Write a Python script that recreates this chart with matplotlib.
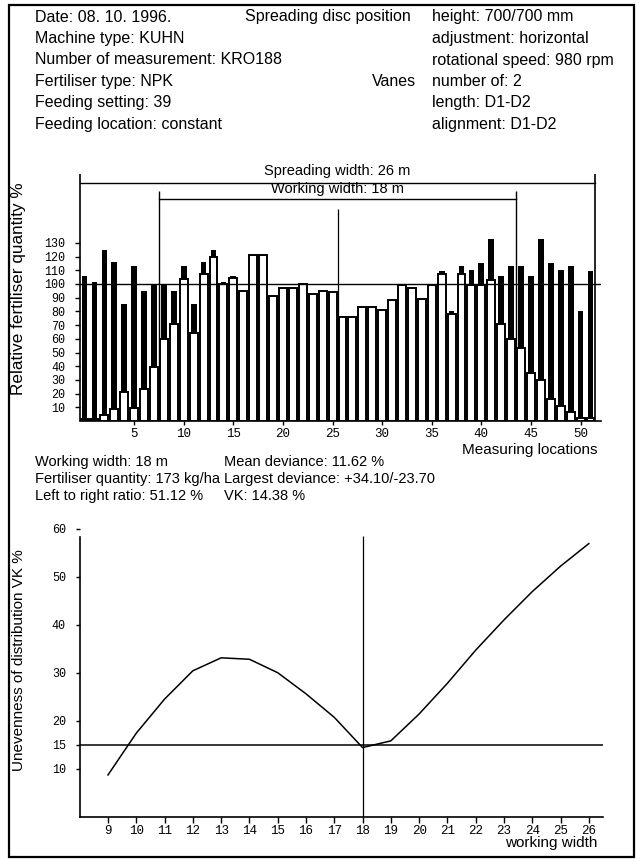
#!/usr/bin/env python3
"""
Spreader test report - lateral distribution and VK vs working width
"""

import matplotlib
matplotlib.use('Agg')
import matplotlib.pyplot as plt
from matplotlib.patches import Rectangle

W, H = 641, 861

# header
info_left = ["Date: 08. 10. 1996.", "Machine type: KUHN", "Number of measurement: KRO188",
             "Fertiliser type: NPK", "Feeding setting: 39", "Feeding location: constant"]
info_right = ["height: 700/700 mm", "adjustment: horizontal", "rotational speed: 980 rpm",
              "number of: 2", "length: D1-D2", "alignment: D1-D2"]

# relative quantity per measuring location (single pass / with neighbour pass)
locations = list(range(52))
single_pass = [1.5, 1.5, 4.5, 9, 21, 9.5, 23, 39.5, 60, 71,
               104, 64, 107, 120, 100, 104.5, 95, 121, 121, 91,
               97, 97, 100, 93, 95, 94, 76, 76, 83, 83,
               81, 88, 99, 97, 89, 99, 107, 78, 107, 99,
               99, 103, 71, 60, 53, 35, 30, 16, 11, 6.5,
               2.5, 2.5]
overlapped = [106, 101.5, 124.5, 116, 85.5, 113.5, 95, 99.5, 99.5, 95,
              113.5, 85.5, 116, 124.5, 101.5, 106, 95, 121, 121, 91,
              97, 97, 100, 93, 95, 94, 76, 76, 83, 83,
              81, 88, 99, 97, 89, 99, 109.5, 80.5, 113.5, 110,
              115, 133, 106, 113, 113, 106, 133, 115, 110, 113.5,
              80.5, 109.5]
loc_ticks = [5, 10, 15, 20, 25, 30, 35, 40, 45, 50]
qty_ticks = [10, 20, 30, 40, 50, 60, 70, 80, 90, 100, 110, 120, 130]

stats_left = ["Working width: 18 m", "Fertiliser quantity: 173 kg/ha", "Left to right ratio: 51.12 %"]
stats_right = ["Mean deviance: 11.62 %", "Largest deviance: +34.10/-23.70", "VK: 14.38 %"]

# VK over working width
widths = [9, 10, 11, 12, 13, 14, 15, 16, 17, 18, 19, 20, 21, 22, 23, 24, 25, 26]
vk = [8.7, 17.4, 24.5, 30.4, 33.1, 32.8, 30.0, 25.6, 20.7, 14.4,
      15.8, 21.4, 27.8, 34.7, 41.0, 46.9, 52.2, 56.9]
vk_ticks = [10, 15, 20, 30, 40, 50, 60]

SANS = ['Liberation Sans', 'DejaVu Sans']
MONO = ['Liberation Mono', 'DejaVu Sans Mono']


def px(x, y):
    return x / W, 1 - y / H


def create_chart(output_path):
    plt.rcParams['font.family'] = SANS
    fig = plt.figure(figsize=(W / 100, H / 100), dpi=100)
    fig.patch.set_facecolor('white')

    # frame
    fig.add_artist(Rectangle(px(9, 857), 625 / W, 852 / H, transform=fig.transFigure,
                             fill=False, lw=1.6, color='black'))

    # header block
    for i, t in enumerate(info_left):
        fig.text(*px(35, 17 + i * 21.5), t, fontsize=11.5, va='center')
    for i, t in enumerate(info_right):
        fig.text(*px(432, 17 + i * 21.5), t, fontsize=11.5, va='center')
    fig.text(*px(245, 17), "Spreading disc position", fontsize=11.5, va='center')
    fig.text(*px(372, 81.5), "Vanes", fontsize=11.5, va='center')

    # distribution chart
    ax = fig.add_axes([79.6 / W, 1 - 421 / H, 521.8 / W, 260.3 / H])
    ax.bar(locations, overlapped, width=0.58, color='black', zorder=2)
    ax.bar(locations, single_pass, width=0.8, facecolor='white', edgecolor='black',
           linewidth=1.4, zorder=3)
    ax.axhline(100, color='black', lw=1, zorder=5)
    ax.set_xlim(-0.5, 52.1)
    ax.set_ylim(0, 190)
    for s in ['top', 'right', 'left']:
        ax.spines[s].set_visible(False)
    ax.spines['bottom'].set_linewidth(1.2)

    # spreading / working width brackets
    ax.plot([-0.5, 51.5], [174, 174], color='black', lw=1, clip_on=False)
    ax.vlines([-0.5, 51.5], 0, 180, color='black', lw=1.2, zorder=5, clip_on=False)
    ax.plot([7.5, 43.5], [162, 162], color='black', lw=1, clip_on=False)
    ax.vlines([7.5, 43.5], 0, 168, color='black', lw=1, zorder=5)
    ax.vlines([25.5], 0, 155, color='black', lw=0.9, zorder=5)
    ax.text(25.5, 177.5, "Spreading width: 26 m", ha='center', va='bottom', fontsize=10.5)
    ax.text(25.5, 164.5, "Working width: 18 m", ha='center', va='bottom', fontsize=10.5)

    ax.set_xticks(loc_ticks)
    ax.set_xticklabels([str(v) for v in loc_ticks], family=MONO, fontsize=9)
    ax.set_yticks(qty_ticks)
    ax.set_yticklabels([str(v) for v in qty_ticks], family=MONO, fontsize=8.5)
    ax.tick_params(axis='y', direction='out', length=3.5, width=1, pad=7)
    ax.tick_params(axis='x', direction='out', length=3, width=1, pad=2)

    fig.text(*px(19, 289), "Relative fertiliser quantity %", rotation=90,
             ha='center', va='center', fontsize=12.3)
    fig.text(*px(597, 450), "Measuring locations", ha='right', va='center', fontsize=11)

    # statistics
    for i, t in enumerate(stats_left):
        fig.text(*px(35, 462 + i * 17), t, fontsize=10.5, va='center')
    for i, t in enumerate(stats_right):
        fig.text(*px(224, 462 + i * 17), t, fontsize=10.5, va='center')

    # VK chart
    ax2 = fig.add_axes([79.7 / W, 1 - 816.7 / H, 523.3 / W, 288 / H])
    ax2.plot(widths, vk, color='black', lw=1.1)
    ax2.axhline(15, color='black', lw=1.1)
    ax2.vlines([18], 0, 58.5, color='black', lw=0.9)
    ax2.set_xlim(8, 26.5)
    ax2.set_ylim(0, 60)
    ax2.spines['top'].set_visible(False)
    ax2.spines['right'].set_visible(False)
    ax2.spines['left'].set_bounds(0, 58.3)
    ax2.spines['left'].set_linewidth(1.2)
    ax2.spines['bottom'].set_linewidth(1.2)
    ax2.set_xticks(widths)
    ax2.set_xticklabels([str(v) for v in widths], family=MONO, fontsize=9)
    ax2.set_yticks(vk_ticks)
    ax2.set_yticklabels([str(v) for v in vk_ticks], family=MONO, fontsize=8.5)
    ax2.tick_params(axis='y', direction='out', length=3, width=1, pad=7)
    ax2.tick_params(axis='x', direction='out', length=4, width=1, pad=2)

    fig.text(*px(19, 660), "Unevenness of distribution VK %", rotation=90,
             ha='center', va='center', fontsize=11)
    fig.text(*px(597, 843), "working width", ha='right', va='center', fontsize=11)

    fig.savefig(output_path, dpi=100, facecolor='white')
    plt.close(fig)
    return output_path


if __name__ == "__main__":
    create_chart("out.png")
